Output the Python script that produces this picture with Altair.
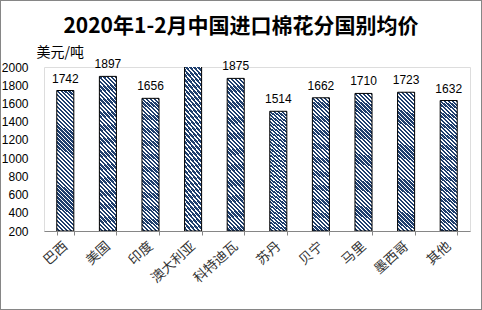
import altair as alt
import pandas as pd

countries = ["巴西", "美国", "印度", "澳大利亚", "科特迪瓦", "苏丹", "贝宁", "马里", "墨西哥", "其他"]
prices = [1742, 1897, 1656, 2075, 1875, 1514, 1662, 1710, 1723, 1632]
y_ticks = [200, 400, 600, 800, 1000, 1200, 1400, 1600, 1800, 2000]
title_text = "2020年1-2月中国进口棉花分国别均价"

df = pd.DataFrame({"country": countries, "price": prices})

# diagonal stripe fill built as a sharp-stop linear gradient
N = 40
k = 0.12
s = (1 + k) / (1 + k * k)
dark = "#1F3F6E"
stops = []
for i in range(N):
    a = i / N
    m = (i + 0.6) / N
    b = (i + 1) / N
    stops += [
        alt.GradientStop(offset=a, color=dark),
        alt.GradientStop(offset=m, color=dark),
        alt.GradientStop(offset=m, color="#FFFFFF"),
        alt.GradientStop(offset=b, color="#FFFFFF"),
    ]
stripe = alt.Gradient(gradient="linear", stops=stops, x1=1, y1=0, x2=1 - k * s, y2=s)

W, H = 426, 164
PL, PT, PR, PB = 44, 67, 12, 79

x_axis = alt.Axis(labelAngle=-42, labelAlign="right", labelBaseline="middle",
                  labelFont="Noto Sans CJK SC", labelFontSize=13.5, labelColor="#333333",
                  labelPadding=9, tickBand="extent", tickSize=4,
                  domainColor="#868686", tickColor="#868686")
y_axis = alt.Axis(values=y_ticks, format="d", labelOverlap=False,
                  grid=False, ticks=False, domain=False,
                  labelFont="Liberation Sans", labelFontSize=12, labelColor="#000000",
                  labelPadding=16,
                  titleAngle=0, titleX=-8, titleY=-11, titleAlign="left",
                  titleBaseline="alphabetic", titleFont="Noto Sans CJK SC",
                  titleFontSize=14, titleFontWeight="normal", titleColor="#000000")
x_scale = alt.Scale(paddingInner=0.6, paddingOuter=0.3)
y_scale = alt.Scale(domain=[200, 2000], nice=False, zero=False)

bars = alt.Chart(df).mark_bar(fill=stripe, stroke="#000000", strokeWidth=1, clip=True).encode(
    x=alt.X("country:N", sort=countries, title=None, scale=x_scale, axis=x_axis),
    y=alt.Y("price:Q", title="美元/吨", scale=y_scale, axis=y_axis),
    y2=alt.datum(200),
)

labels = alt.Chart(df).transform_filter("datum.price <= 2000").mark_text(
    font="Liberation Sans", fontSize=12, color="#000000", baseline="alphabetic", dy=-8
).encode(
    x=alt.X("country:N", sort=countries, title=None, scale=x_scale, axis=x_axis),
    y=alt.Y("price:Q", title="美元/吨", scale=y_scale, axis=y_axis),
    text=alt.Text("price:Q"),
)

frame = alt.Chart(df).mark_rect(fill=None, stroke="#868686", strokeWidth=1, clip=False).encode(
    x=alt.value(-PL + 0.5), x2=alt.value(W + PR - 0.5),
    y=alt.value(-PT + 0.5), y2=alt.value(H + PB - 0.5),
)

title = alt.Chart(pd.DataFrame({"t": [title_text]})).mark_text(
    font="Noto Sans CJK SC", fontSize=21, fontWeight="bold", color="#000000",
    align="center", baseline="alphabetic"
).encode(x=alt.value(241 - PL), y=alt.value(33 - PT), text="t:N")

chart = alt.layer(frame, bars, labels, title).properties(
    width=W, height=H,
    autosize=alt.AutoSizeParams(type="none"),
    padding={"left": PL, "top": PT, "right": PR, "bottom": PB},
).configure_view(stroke=None).configure(background="#FFFFFF").configure_axisY(labelOverlap=False)

chart.save("out.html", embed_options={"renderer": "svg", "actions": False})
